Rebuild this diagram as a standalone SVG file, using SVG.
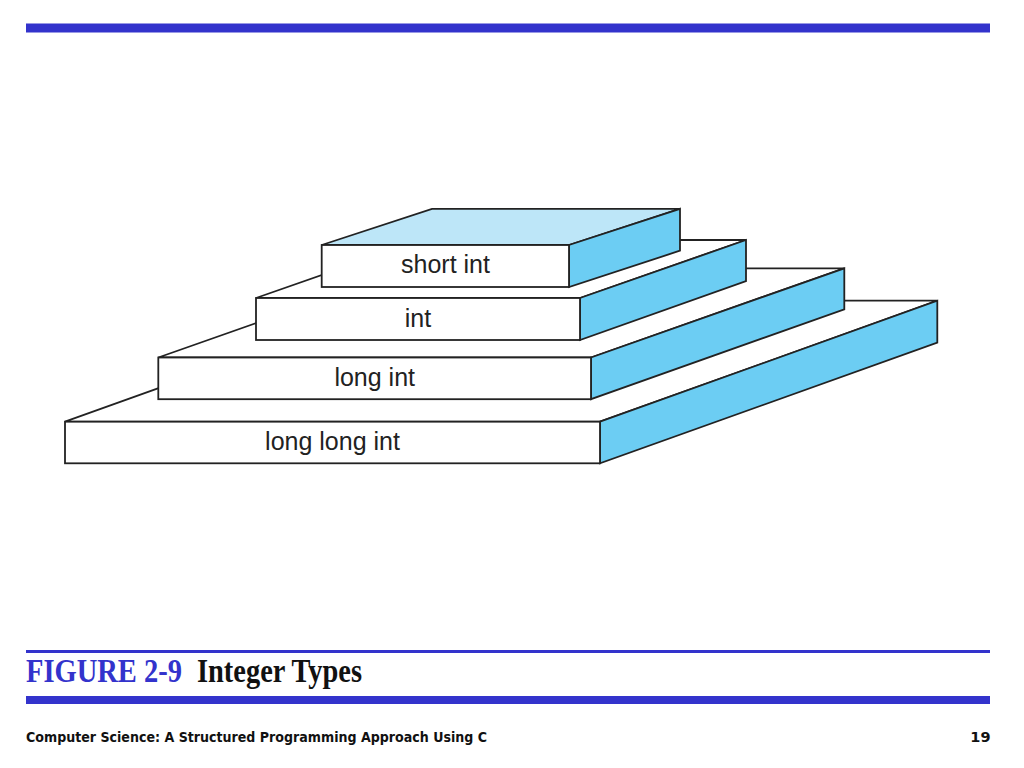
<svg xmlns="http://www.w3.org/2000/svg" width="1024" height="768" viewBox="0 0 1024 768">
<style>
.face{fill:#ffffff;stroke:#222222;stroke-width:1.8;stroke-linejoin:miter}
.side{fill:#6ccdf3;stroke:#222222;stroke-width:1.8;stroke-linejoin:miter}
.topblue{fill:#bde6f8;stroke:#222222;stroke-width:1.8;stroke-linejoin:miter}
.lbl{font-family:"Liberation Sans",Arial,sans-serif;font-size:25px;fill:#222222;text-anchor:middle}
.bar{fill:#3333cc}
</style>
<rect width="1024" height="768" fill="#ffffff"/>
<rect class="bar" x="26" y="23.5" width="964" height="9"/>

<g id="long-long-int">
<polygon class="face" points="65,421.7 402.3,300.7 937.3,300.7 600,421.7"/>
<polygon class="side" points="600,421.7 937.3,300.7 937.3,342.7 600,463.3"/>
<rect class="face" x="65" y="421.7" width="535" height="41.6"/>
<text class="lbl" x="332.5" y="450">long long int</text>
</g>

<g id="long-int">
<polygon class="face" points="158.3,357.5 411.6,268.3 844.3,268.3 591,357.5"/>
<polygon class="side" points="591,357.5 844.3,268.3 844.3,309.3 591,399.2"/>
<rect class="face" x="158.3" y="357.5" width="432.7" height="41.7"/>
<text class="lbl" x="374.7" y="386">long int</text>
</g>

<g id="int">
<polygon class="face" points="256,298 422,240 746,240 580,298"/>
<polygon class="side" points="580,298 746,240 746,281 580,340"/>
<rect class="face" x="256" y="298" width="324" height="42"/>
<text class="lbl" x="418" y="327.3">int</text>
</g>

<g id="short-int">
<polygon class="topblue" points="321.7,245 432,208.8 680,208.8 569,245"/>
<polygon class="side" points="569,245 680,208.8 680,250.7 569,287"/>
<rect class="face" x="321.7" y="245" width="247.3" height="42"/>
<text class="lbl" x="445.5" y="273.3">short int</text>
</g>

<g id="connectors"></g>

<rect class="bar" x="26" y="650" width="964" height="3"/>
<text x="26" y="681.7" font-family="Liberation Serif,'Times New Roman',serif" font-size="33" font-weight="bold" fill="#3333cc" textLength="156" lengthAdjust="spacingAndGlyphs">FIGURE 2-9</text>
<text x="197" y="681.7" font-family="Liberation Serif,'Times New Roman',serif" font-size="33" font-weight="bold" fill="#111111" textLength="165" lengthAdjust="spacingAndGlyphs">Integer Types</text>
<rect class="bar" x="26" y="696" width="964" height="8"/>

<text x="26" y="741.7" font-family="'DejaVu Sans',Verdana,sans-serif" font-size="14.5" font-weight="bold" fill="#111111" textLength="461" lengthAdjust="spacingAndGlyphs">Computer Science: A Structured Programming Approach Using C</text>
<text x="990.5" y="741.7" font-family="'DejaVu Sans',Verdana,sans-serif" font-size="14.5" font-weight="bold" fill="#111111" text-anchor="end">19</text>
</svg>
